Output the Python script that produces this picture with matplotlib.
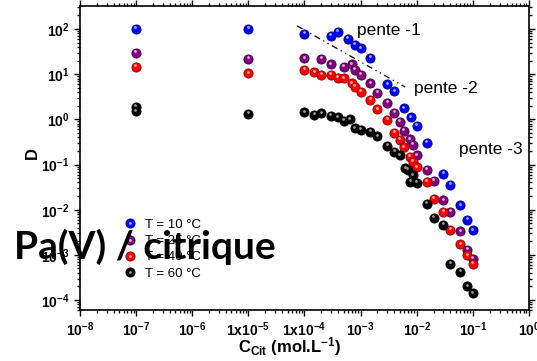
import numpy as np
import matplotlib
matplotlib.use("Agg")
import matplotlib.pyplot as plt
import matplotlib.transforms as mtransforms
from matplotlib.lines import Line2D
from matplotlib.legend_handler import HandlerTuple
from matplotlib.ticker import FixedLocator, FixedFormatter, LogLocator, NullFormatter

plt.rcParams['font.family'] = ['Liberation Sans', 'DejaVu Sans']
plt.rcParams['mathtext.fontset'] = 'custom'
plt.rcParams['mathtext.rm'] = 'Liberation Sans'
plt.rcParams['mathtext.bf'] = 'Liberation Sans:bold'
plt.rcParams['mathtext.it'] = 'Liberation Sans:italic'

# --- data ---
x_10 = [1e-7, 1e-5, 1e-4, 3e-4, 4e-4, 6e-4, 8e-4, 1e-3, 1.5e-3, 3e-3, 4e-3, 6e-3, 8e-3,
        1e-2, 1.5e-2, 3e-2, 4e-2, 6e-2, 8e-2, 1e-1]
d_10 = [100, 100, 78, 71, 87, 60, 44, 37, 23, 6.0, 4.2, 1.75, 1.1,
        0.72, 0.30, 0.063, 0.035, 0.0126, 0.006, 0.0035]

x_25 = [1e-7, 1e-5, 1e-4, 2e-4, 3e-4, 5e-4, 7e-4, 8e-4, 1e-3, 1.5e-3, 2e-3, 3e-3, 4e-3,
        5e-3, 6e-3, 7.5e-3, 8.5e-3, 1e-2, 1.5e-2, 2e-2, 3e-2, 4e-2, 6e-2, 8e-2, 1e-1]
d_25 = [29.8, 22, 22.4, 22, 16.5, 14.6, 16.5, 12.3, 9.5, 6.25, 3.9, 2.3, 1.4,
        0.88, 0.56, 0.36, 0.27, 0.16, 0.075, 0.043, 0.016, 0.0089, 0.0033, 0.0013, 8.3e-4]

x_40 = [1e-7, 1e-5, 1e-4, 1.5e-4, 2e-4, 3e-4, 4e-4, 5e-4, 7e-4, 8e-4, 1e-3, 1.5e-3, 2e-3,
        3e-3, 4e-3, 5e-3, 6e-3, 7.5e-3, 8.5e-3, 1e-2, 1.5e-2, 2e-2, 3e-2, 4e-2, 6e-2, 8e-2, 1e-1]
d_40 = [14.4, 10.5, 12.3, 11, 9.5, 9.5, 8.3, 8.1, 6.3, 5.3, 4.1, 2.7, 1.66,
        0.96, 0.5, 0.35, 0.24, 0.15, 0.115, 0.086, 0.041, 0.0176, 0.0089, 0.0036, 0.0017, 9.8e-4, 6.4e-4]

x_60 = [1e-7, 1e-7, 1e-5, 1e-4, 1.5e-4, 2e-4, 3e-4, 4e-4, 5e-4, 6.5e-4, 8e-4, 1e-3, 1.5e-3,
        2e-3, 3e-3, 4e-3, 5e-3, 6.3e-3, 7e-3, 8.5e-3, 7.7e-3, 1e-2, 1.5e-2, 2e-2, 3e-2, 4e-2,
        6e-2, 8e-2, 1e-1]
d_60 = [1.9, 1.5, 1.32, 1.42, 1.24, 1.35, 1.18, 1.1, 0.93, 1.0, 0.63, 0.58, 0.53,
        0.42, 0.26, 0.19, 0.16, 0.082, 0.077, 0.058, 0.041, 0.039, 0.0137, 0.0066, 0.0047, 6.4e-4,
        4.2e-4, 2e-4, 1.4e-4]

labels = ['T = 10 °C', 'T = 25 °C', 'T = 40 °C', 'T = 60 °C']
colors = ['#0000ff', '#800080', '#ff0000', '#000000']
edge_colors = ['#00007a', '#3d003d', '#8a0000', '#000000']
hl_colors = ['#b0b0ff', '#d9b3d9', '#ffb3b3', '#9a9a9a']

# slope guide (pente) end points
slope_x = [7.4e-5, 6.2e-3]
slope_y = [117, 5.2]

x_ticks = [1e-8, 1e-7, 1e-6, 1e-5, 1e-4, 1e-3, 1e-2, 1e-1, 1e0]
x_tick_labels = [r'$\mathbf{10^{-8}}$', r'$\mathbf{10^{-7}}$', r'$\mathbf{10^{-6}}$',
                 r'$\mathbf{1x10^{-5}}$', r'$\mathbf{1x10^{-4}}$', r'$\mathbf{10^{-3}}$',
                 r'$\mathbf{10^{-2}}$', r'$\mathbf{10^{-1}}$', r'$\mathbf{10^{0}}$']
y_ticks = [1e-4, 1e-3, 1e-2, 1e-1, 1e0, 1e1, 1e2]
y_tick_labels = [r'$\mathbf{10^{-4}}$', r'$\mathbf{10^{-3}}$', r'$\mathbf{10^{-2}}$',
                 r'$\mathbf{10^{-1}}$', r'$\mathbf{10^{0}}$', r'$\mathbf{10^{1}}$',
                 r'$\mathbf{10^{2}}$']

fig = plt.figure(figsize=(5.37, 3.61), dpi=100)
ax = fig.add_axes([0.149, 0.141, 0.836, 0.842])
ax.set_xscale('log')
ax.set_yscale('log')

ms_ball = 6.6
ms_hl = 2.0
hl_trans = mtransforms.offset_copy(ax.transData, fig=fig, x=-0.6, y=1.2, units='points')
series = [(x_10, d_10), (x_25, d_25), (x_40, d_40), (x_60, d_60)]
handles = []
for (xs, ys), c, ec, hc, lab in zip(series, colors, edge_colors, hl_colors, labels):
    ax.plot(xs, ys, 'o', ms=ms_ball, color=c, mec=ec, mew=0.6, zorder=3)
    ax.plot(xs, ys, 'o', ms=ms_hl, color=hc, mec='none', transform=hl_trans, zorder=4)
    h1 = Line2D([], [], marker='o', ls='none', ms=ms_ball, color=c, mec=ec, mew=0.6)
    h2 = Line2D([], [], marker='o', ls='none', ms=ms_hl, color=hc, mec='none')
    handles.append((h1, h2))

ax.plot(slope_x, slope_y, color='black', lw=0.9, dashes=[5, 3, 1, 3, 1, 3], zorder=2)

ax.text(8.7e-4, 92, 'pente -1', fontsize=12.5, va='center', ha='left')
ax.text(9.0e-3, 4.7, 'pente -2', fontsize=12.5, va='center', ha='left')
ax.text(5.7e-2, 0.21, 'pente -3', fontsize=12.5, va='center', ha='left')

ax.set_xlim(1e-8, 1e0)
ax.set_ylim(6e-5, 3.2e2)

ax.xaxis.set_major_locator(FixedLocator(x_ticks))
ax.xaxis.set_major_formatter(FixedFormatter(x_tick_labels))
ax.yaxis.set_major_locator(FixedLocator(y_ticks))
ax.yaxis.set_major_formatter(FixedFormatter(y_tick_labels))
ax.xaxis.set_minor_locator(LogLocator(base=10, subs=np.arange(2, 10), numticks=20))
ax.yaxis.set_minor_locator(LogLocator(base=10, subs=np.arange(2, 10), numticks=20))
ax.xaxis.set_minor_formatter(NullFormatter())
ax.yaxis.set_minor_formatter(NullFormatter())
ax.tick_params(which='both', direction='out', top=True, right=True, labelsize=10, width=1)
ax.tick_params(which='major', length=4)
ax.tick_params(which='minor', length=2)
for s in ax.spines.values():
    s.set_linewidth(1.2)

ax.set_ylabel('D', fontsize=12, fontweight='bold')
ax.yaxis.set_label_coords(-0.09, 0.516)
ax.set_xlabel(r'$\mathbf{C_{Cit}}$ (mol.L$^{\mathbf{-1}}$)', fontsize=12, fontweight='bold')
ax.xaxis.set_label_coords(0.468, -0.083)

leg = ax.legend(handles, labels, handler_map={tuple: HandlerTuple(ndivide=1, pad=0)},
                loc='upper left', bbox_to_anchor=(0.084, 0.318), frameon=False,
                fontsize=9.5, handlelength=1.0, handletextpad=0.7, labelspacing=0.3,
                borderaxespad=0)

fig.text(0.27, 0.283, 'Pa(V) / citrique', fontsize=28, fontweight='bold',
         family=['Lato', 'DejaVu Sans'], ha='center', va='baseline', zorder=10)

fig.savefig('out.png', dpi=100)
